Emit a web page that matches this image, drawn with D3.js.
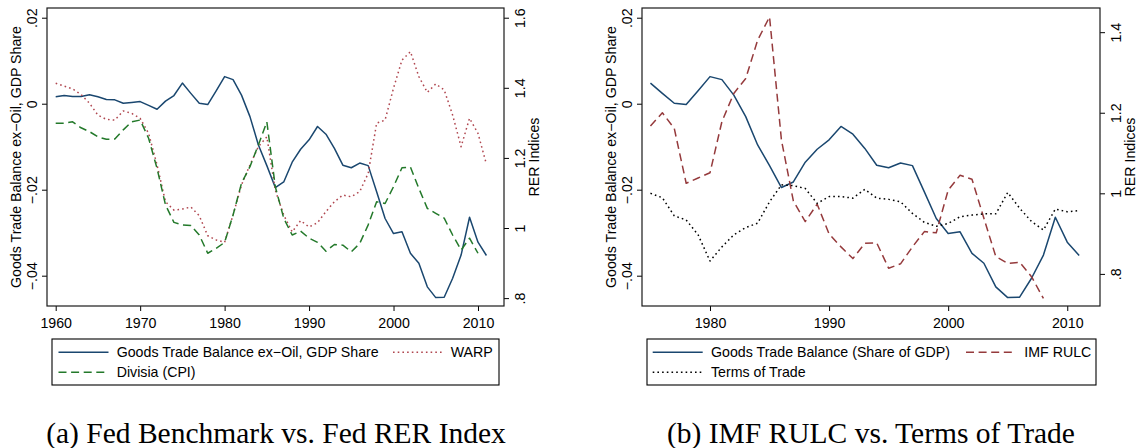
<!DOCTYPE html>
<html>
<head>
<meta charset="utf-8">
<script src="https://cdn.jsdelivr.net/npm/d3@7"></script>
<style>
  body { margin: 0; background: #fff; }
  svg { display: block; }
  text { font-family: "Liberation Sans", Arial, sans-serif; fill: #000; }
  .caption { font-family: "Liberation Serif", "Times New Roman", serif; }
</style>
</head>
<body>
<svg id="chart" width="1137" height="448"></svg>
<script>
// ---- Data -------------------------------------------------------------
const yearsA = [1960,1961,1962,1963,1964,1965,1966,1967,1968,1969,
                1970,1971,1972,1973,1974,1975,1976,1977,1978,1979,
                1980,1981,1982,1983,1984,1985,1986,1987,1988,1989,
                1990,1991,1992,1993,1994,1995,1996,1997,1998,1999,
                2000,2001,2002,2003,2004,2005,2006,2007,2008,2009,
                2010,2011];

// Goods trade balance ex-oil, share of GDP
const tradeBalance = [0.0016,0.0019,0.0017,0.0017,0.0021,0.0016,0.0010,0.0009,0.0001,0.0003,
                      0.0005,-0.0004,-0.0013,0.0006,0.0019,0.0048,0.0024,0.0001,-0.0002,0.0030,
                      0.0063,0.0056,0.0020,-0.0030,-0.0096,-0.0144,-0.0195,-0.0182,-0.0136,-0.0106,
                      -0.0084,-0.0053,-0.0071,-0.0104,-0.0143,-0.0149,-0.0138,-0.0144,-0.0205,-0.0267,
                      -0.0302,-0.0298,-0.0348,-0.0371,-0.0426,-0.0451,-0.0450,-0.0406,-0.0352,-0.0264,
                      -0.0322,-0.0353];

// WARP real exchange rate index (1960-2011)
const warp = [1.413,1.405,1.397,1.381,1.356,1.322,1.310,1.308,1.334,1.327,
              1.313,1.270,1.180,1.075,1.051,1.054,1.060,1.035,0.978,0.966,
              0.959,1.037,1.123,1.180,1.232,1.260,1.108,1.037,0.989,1.021,
              1.003,1.015,1.047,1.075,1.094,1.089,1.104,1.156,1.299,1.308,
              1.399,1.479,1.503,1.432,1.387,1.411,1.394,1.322,1.232,1.313,
              1.270,1.182];

// Divisia (CPI) real exchange rate index (1960-2010)
const divisia = [1.299,1.299,1.303,1.286,1.275,1.260,1.253,1.254,1.280,1.303,
                 1.308,1.256,1.170,1.066,1.016,1.009,1.007,0.980,0.928,0.942,
                 0.959,1.037,1.128,1.175,1.237,1.303,1.118,1.028,0.980,0.991,
                 0.971,0.959,0.934,0.953,0.951,0.932,0.956,1.009,1.075,1.070,
                 1.118,1.172,1.174,1.113,1.056,1.042,1.028,0.980,0.937,0.971,
                 0.928];

const yearsB = [1975,1976,1977,1978,1979,1980,1981,1982,1983,1984,
                1985,1986,1987,1988,1989,1990,1991,1992,1993,1994,
                1995,1996,1997,1998,1999,2000,2001,2002,2003,2004,
                2005,2006,2007,2008,2009,2010,2011];

// IMF relative unit labour cost index (1975-2008)
const imfRulc = [1.167,1.200,1.161,1.025,1.038,1.051,1.178,1.248,1.285,1.380,
                 1.438,1.132,0.981,0.930,0.973,0.899,0.867,0.838,0.876,0.877,
                 0.814,0.825,0.867,0.905,0.902,1.008,1.045,1.035,0.938,0.843,
                 0.826,0.829,0.793,0.739];

// Terms of trade index (1975-2011)
const termsOfTrade = [1.000,0.989,0.944,0.934,0.897,0.832,0.867,0.897,0.915,0.926,
                      0.979,1.021,1.019,1.012,0.975,0.992,0.992,0.988,1.010,0.988,
                      0.985,0.979,0.950,0.928,0.918,0.925,0.942,0.946,0.949,0.949,
                      1.002,0.963,0.930,0.909,0.961,0.954,0.957];

// Axis ticks
const xTicksA = [1960,1970,1980,1990,2000,2010];
const xTicksB = [1980,1990,2000,2010];
const shareTicks = [-0.04,-0.02,0,0.02];
const rerTicksA = [0.8,1,1.2,1.4,1.6];
const rerTicksB = [0.8,1,1.2,1.4];

// ---- Styles -----------------------------------------------------------
const NAVY = "#1a476f";
const GREEN = "#23792a";
const ROSE = "#b0464f";
const MAROON = "#953a3c";
const BLACK = "#000";
const SOLID = null, DASH = "8,4.6", DOT = "1.6,3.1";
const FONT = 14.2;

const svg = d3.select("#chart");

// Stata-style numeric labels: ".02", "−.04", "1.2", ".8"
function stataNum(d) {
  if (d === 0) return "0";
  const s = String(Math.abs(+d.toFixed(4))).replace(/^0\./, ".");
  return (d < 0 ? "\u2212" : "") + s;
}

function drawPanel(p) {
  const g = svg.append("g");
  const x = d3.scaleLinear().domain(p.xDomain).range([p.x0, p.x1]);
  const yL = d3.scaleLinear().domain(p.leftDomain).range([p.y1, p.y0]);
  const yR = d3.scaleLinear().domain(p.rightDomain).range([p.y1, p.y0]);

  // bottom axis
  const bx = g.append("g").attr("transform", `translate(0,${p.y1})`)
    .call(d3.axisBottom(x).tickValues(p.xTicks).tickFormat(d3.format("d")).tickSize(5).tickPadding(0));
  bx.select(".domain").remove();
  bx.selectAll("text").attr("dy", null).attr("y", 21.5).style("font-size", FONT + "px");

  // left axis (rotated labels)
  const lx = g.append("g").attr("transform", `translate(${p.x0},0)`)
    .call(d3.axisLeft(yL).tickValues(shareTicks).tickFormat(stataNum).tickSize(5));
  lx.select(".domain").remove();
  lx.selectAll("text")
    .attr("transform", "rotate(-90)").attr("x", 0).attr("y", -10).attr("dy", null)
    .attr("text-anchor", "middle").style("font-size", FONT + "px");

  // right axis (rotated labels)
  const rx = g.append("g").attr("transform", `translate(${p.x1},0)`)
    .call(d3.axisRight(yR).tickValues(p.rightTicks).tickFormat(stataNum).tickSize(5));
  rx.select(".domain").remove();
  rx.selectAll("text")
    .attr("transform", "rotate(-90)").attr("x", 0).attr("y", 20.5).attr("dy", null)
    .attr("text-anchor", "middle").style("font-size", FONT + "px");

  g.selectAll(".tick line").attr("stroke", "#000").attr("stroke-width", 1);

  // axis titles
  const cy = (p.y0 + p.y1) / 2;
  g.append("text").attr("transform", `translate(${p.x0 - 26.5},${cy}) rotate(-90)`)
    .attr("text-anchor", "middle").style("font-size", FONT + "px")
    .text("Goods Trade Balance ex\u2212Oil, GDP Share");
  g.append("text").attr("transform", `translate(${p.x1 + 34.5},${cy}) rotate(-90)`)
    .attr("text-anchor", "middle").style("font-size", FONT + "px")
    .text("RER Indices");

  // series
  const plot = g.append("g");
  p.series.forEach(s => {
    const scale = s.axis === "left" ? yL : yR;
    const line = d3.line().x((d, i) => x(s.years[i])).y(d => scale(d));
    plot.append("path").datum(s.values)
      .attr("fill", "none").attr("stroke", s.color).attr("stroke-width", s.width)
      .attr("stroke-dasharray", s.dash).attr("stroke-linejoin", "round")
      .attr("d", line);
  });

  // plot frame
  g.append("rect").attr("x", p.x0).attr("y", p.y0)
    .attr("width", p.x1 - p.x0).attr("height", p.y1 - p.y0)
    .attr("fill", "none").attr("stroke", "#1a1a1a").attr("stroke-width", 1.2);

  // legend
  const L = p.legend;
  g.append("rect").attr("x", L.x0).attr("y", L.y0)
    .attr("width", L.x1 - L.x0).attr("height", L.y1 - L.y0)
    .attr("fill", "#fff").attr("stroke", "#000").attr("stroke-width", 1.1);
  L.items.forEach(it => {
    const s = p.series[it.series];
    g.append("line").attr("x1", it.kx).attr("x2", it.kx + 50)
      .attr("y1", it.y - 4.7).attr("y2", it.y - 4.7)
      .attr("stroke", s.color).attr("stroke-width", s.width).attr("stroke-dasharray", s.dash);
    g.append("text").attr("x", it.tx).attr("y", it.y)
      .style("font-size", FONT + "px").text(s.label);
  });

  // caption
  g.append("text").attr("class", "caption")
    .attr("x", p.caption.x).attr("y", 443).attr("text-anchor", "middle")
    .style("font-size", "29.5px").text(p.caption.text);
}

drawPanel({
  x0: 47, x1: 504, y0: 8, y1: 306,
  xDomain: [1958.97, 2013.08], xTicks: xTicksA,
  leftDomain: [-0.04705, 0.02226],
  rightDomain: [0.7775, 1.6277], rightTicks: rerTicksA,
  series: [
    { label: "Goods Trade Balance ex\u2212Oil, GDP Share", years: yearsA, values: tradeBalance, axis: "left", color: NAVY, width: 1.5, dash: SOLID },
    { label: "WARP", years: yearsA, values: warp, axis: "right", color: ROSE, width: 1.5, dash: DOT },
    { label: "Divisia (CPI)", years: yearsA, values: divisia, axis: "right", color: GREEN, width: 1.5, dash: DASH }
  ],
  legend: { x0: 52, x1: 499, y0: 339, y1: 385,
    items: [ { series: 0, kx: 58.5, tx: 116.7, y: 357 },
             { series: 1, kx: 393, tx: 450.7, y: 357 },
             { series: 2, kx: 58.5, tx: 116.7, y: 377 } ] },
  caption: { x: 276, text: "(a) Fed Benchmark vs. Fed RER Index" }
});

drawPanel({
  x0: 642, x1: 1100, y0: 8, y1: 306,
  xDomain: [1974.29, 2012.75], xTicks: xTicksB,
  leftDomain: [-0.04705, 0.02226],
  rightDomain: [0.7203, 1.46], rightTicks: rerTicksB,
  series: [
    { label: "Goods Trade Balance (Share of GDP)", years: yearsA.slice(15), values: tradeBalance.slice(15), axis: "left", color: NAVY, width: 1.5, dash: SOLID },
    { label: "IMF RULC", years: yearsB, values: imfRulc, axis: "right", color: MAROON, width: 1.5, dash: DASH },
    { label: "Terms of Trade", years: yearsB, values: termsOfTrade, axis: "right", color: BLACK, width: 1.5, dash: DOT }
  ],
  legend: { x0: 647, x1: 1096, y0: 339, y1: 385,
    items: [ { series: 0, kx: 652.7, tx: 711, y: 357 },
             { series: 1, kx: 966, tx: 1024.3, y: 357 },
             { series: 2, kx: 652.7, tx: 711, y: 377 } ] },
  caption: { x: 871, text: "(b) IMF RULC vs. Terms of Trade" }
});
</script>
</body>
</html>
